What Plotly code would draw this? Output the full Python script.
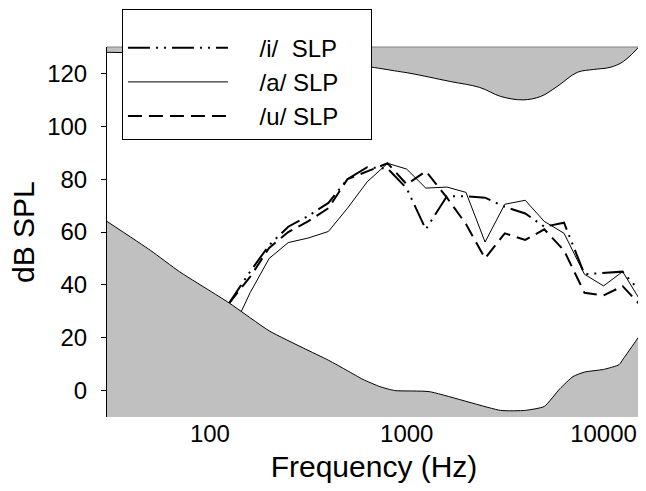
import numpy as np
import plotly.graph_objects as go

# 1/3-octave band centres (Hz)
bands = [125, 160, 200, 250, 315, 400, 500, 630, 800, 1000, 1250, 1600,
         2000, 2500, 3150, 4000, 5000, 6300, 8000, 10000, 12500, 16000]

slp_i = [33, 45, 55, 62, 66, 71, 80, 84.5, 84, 76.5, 61, 73.5,
         73.5, 73, 69.5, 67, 62, 63.5, 44, 44.5, 45, 36]
slp_a = [20, 37, 50, 56, 57.7, 60.2, 69, 79, 86, 83.8, 76.6, 77,
         75, 56.2, 70.5, 72, 64, 59.5, 44, 39.6, 45, 32]
slp_u = [33, 43, 54, 60, 64, 69, 80, 83, 86, 78, 83, 73,
         63, 50, 59.5, 57, 61, 53, 37, 36, 39.5, 31]

# threshold of pain (upper grey)
pain_f = [30, 63, 125, 250, 500, 630, 900, 1050, 1650, 2350, 3000, 3900,
          4800, 5800, 7350, 8900, 10800, 12600, 16000]
pain_db = [128, 127.5, 126.5, 125, 123.3, 122.6, 120.8, 120, 117, 114.7, 111.3, 110,
           111.3, 115, 120.4, 121.5, 122.3, 124.5, 132]

# threshold of hearing (lower grey)
hear_f = [30, 50, 70, 125, 200, 300, 400, 500, 600, 730, 870, 1300, 3000, 4000,
          5000, 6000, 7000, 8000, 10000, 12000, 12600, 16000]
hear_db = [64, 53, 45, 33.2, 22.6, 16, 11.5, 7.5, 4.2, 1.5, 0, -0.4, -7.5, -7.5,
           -6, 0.7, 5.3, 7, 8, 9.8, 12, 23]

y_ticks = [0, 20, 40, 60, 80, 100, 120]
x_ticks = [100, 1000, 10000]
x_ticktext = ["100", "1000", "10000"]

series_names = ["/i/\u00a0\u00a0SLP", "/a/\u00a0SLP", "/u/\u00a0SLP"]

FONT = "Liberation Sans, Arial, sans-serif"
GREY = "#c0c0c0"
LEAD = "\u00a0" * 4
TRAIL = "\u00a0" * 4

fig = go.Figure()

fig.add_trace(go.Scatter(x=bands, y=slp_i, mode="lines", name=LEAD + series_names[0] + TRAIL,
                         line=dict(color="black", width=2,
                                   dash="22px,6px,2px,6px,2px,6px")))
fig.add_trace(go.Scatter(x=bands, y=slp_a, mode="lines", name=LEAD + series_names[1] + TRAIL,
                         line=dict(color="black", width=1)))
fig.add_trace(go.Scatter(x=bands, y=slp_u, mode="lines", name=LEAD + series_names[2] + TRAIL,
                         line=dict(color="black", width=2, dash="14px,7px")))

# upper grey region
fig.add_trace(go.Scatter(x=[pain_f[0], pain_f[-1]], y=[150, 150], mode="lines",
                         line=dict(width=0, color=GREY), showlegend=False,
                         hoverinfo="skip"))
fig.add_trace(go.Scatter(x=pain_f, y=pain_db, mode="lines", fill="tonexty",
                         fillcolor=GREY, line=dict(color="black", width=1,
                                                   shape="spline", smoothing=1),
                         showlegend=False, hoverinfo="skip"))
# lower grey region
fig.add_trace(go.Scatter(x=[hear_f[0], hear_f[-1]], y=[-30, -30], mode="lines",
                         line=dict(width=0, color=GREY), showlegend=False,
                         hoverinfo="skip"))
fig.add_trace(go.Scatter(x=hear_f, y=hear_db, mode="lines", fill="tonexty",
                         fillcolor=GREY, line=dict(color="black", width=1,
                                                   shape="spline", smoothing=0.5),
                         showlegend=False, hoverinfo="skip"))

# page body has an 8px margin, so the figure is 8px smaller than the window
fig.update_layout(
    width=638, height=483,
    margin=dict(l=99, r=5, t=39, b=74, autoexpand=False),
    paper_bgcolor="white", plot_bgcolor="white",
    font=dict(family=FONT, color="black", size=24),
    showlegend=True,
    legend=dict(x=0.028, y=1.1027, xanchor="left", yanchor="top",
                traceorder="normal",
                bgcolor="white", bordercolor="black", borderwidth=1,
                font=dict(size=24, family=FONT), itemwidth=100,
                title=dict(text="\u00a0", font=dict(size=12))),
    xaxis=dict(type="log", range=[np.log10(30), np.log10(15500)],
               tickvals=x_ticks, ticktext=x_ticktext, ticks="",
               showgrid=False, zeroline=False, showline=False, automargin=False,
               tickfont=dict(size=24, family=FONT),
               title=dict(text="Frequency (Hz)", font=dict(size=30, family=FONT),
                          standoff=9)),
    yaxis=dict(range=[-10, 130], tickvals=y_ticks, ticks="outside", ticklen=5,
               tickcolor="black", showline=True, linecolor="black", linewidth=1,
               showgrid=False, zeroline=False, ticklabelstandoff=9, automargin=False,
               tickfont=dict(size=24, family=FONT)),
    annotations=[
        dict(text="dB SPL", xref="paper", yref="paper", x=0, y=0.5,
             xanchor="center", yanchor="middle", xshift=-84, textangle=-90,
             showarrow=False, font=dict(size=30, family=FONT, color="black")),
    ],
    shapes=[
        dict(type="line", xref="paper", yref="paper", x0=0, x1=1, y0=1, y1=1,
             line=dict(color="#808080", width=1)),
        dict(type="line", xref="paper", yref="paper", x0=1, x1=1, y0=0, y1=1,
             line=dict(color="#808080", width=1)),
    ],
)

fig.write_html("out.html")
